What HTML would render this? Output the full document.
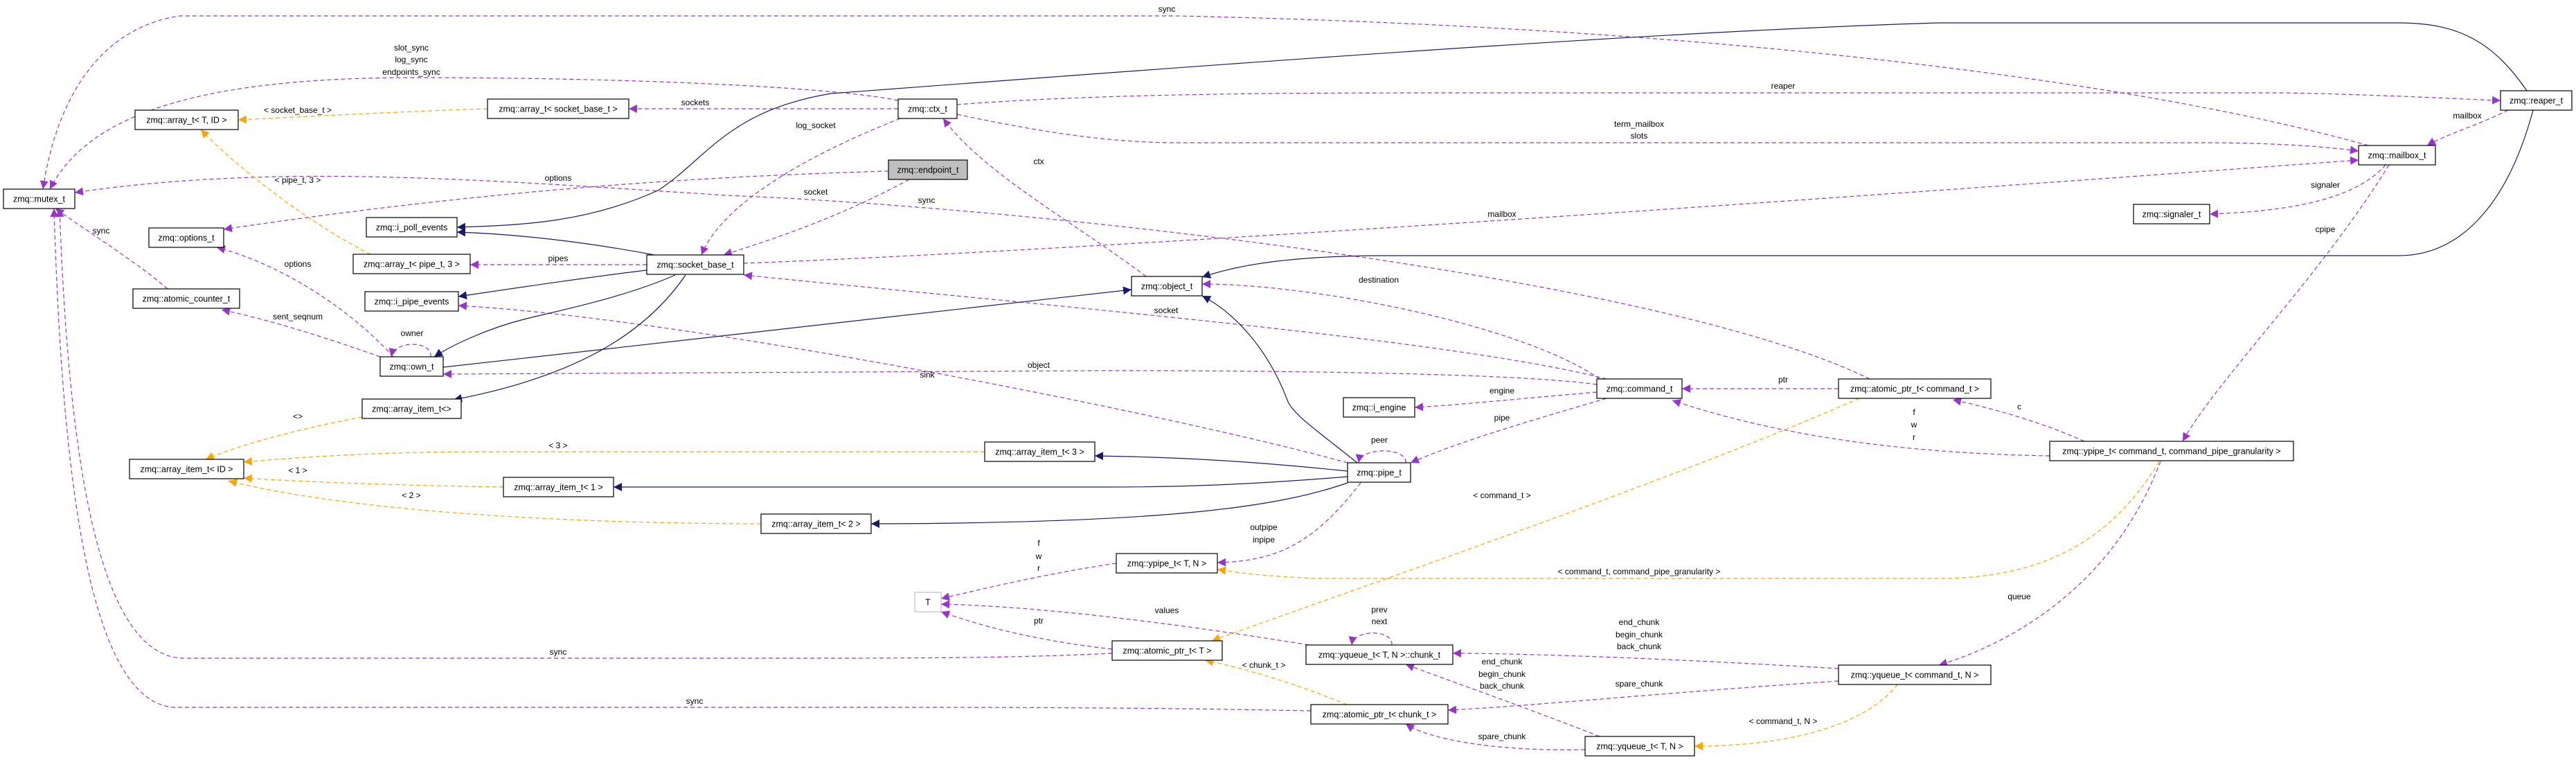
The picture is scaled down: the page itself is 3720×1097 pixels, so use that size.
<!DOCTYPE html>
<html><head><meta charset="utf-8"><style>
html,body{margin:0;padding:0;background:#fff;}
svg{display:block;}
.n rect{fill:#fff;stroke:#000;stroke-width:1.2;}
.n text{font-family:"Liberation Sans",sans-serif;font-size:12.5px;text-anchor:middle;fill:#000;}
.l{font-family:"Liberation Sans",sans-serif;font-size:12px;text-anchor:middle;fill:#000;}
.P{fill:none;stroke:#9a32cd;stroke-width:1.2;stroke-dasharray:6,4;marker-end:url(#mp);}
.N{fill:none;stroke:#191970;stroke-width:1.2;marker-end:url(#mn);}
.O{fill:none;stroke:#ffa500;stroke-width:1.2;stroke-dasharray:6,4;marker-end:url(#mo);}
</style></head><body>
<svg width="3720" height="1097" viewBox="0 0 3720 1097" xmlns="http://www.w3.org/2000/svg">
<defs>
<marker id="mp" viewBox="0 0 10 10" refX="10" refY="5" markerWidth="12" markerHeight="12" markerUnits="userSpaceOnUse" orient="auto"><path d="M0,0 L10,5 L0,10 z" fill="#9a32cd"/></marker>
<marker id="mn" viewBox="0 0 10 10" refX="10" refY="5" markerWidth="12" markerHeight="12" markerUnits="userSpaceOnUse" orient="auto"><path d="M0,0 L10,5 L0,10 z" fill="#191970"/></marker>
<marker id="mo" viewBox="0 0 10 10" refX="10" refY="5" markerWidth="12" markerHeight="12" markerUnits="userSpaceOnUse" orient="auto"><path d="M0,0 L10,5 L0,10 z" fill="#ffa500"/></marker>
</defs>

<!-- purple edges -->
<path class="P" d="M3420,210 C3100,120 2500,40 1700,23 L260,23 C140,40 80,150 62,273"/>
<path class="P" d="M1297,145 C1200,125 900,112 600,112 C300,112 130,160 72,273"/>
<path class="P" d="M2700,547 C2400,400 1500,300 1050,282 C700,260 400,235 108,278"/>
<path class="P" d="M1074,380 C1600,360 2600,290 3406,231"/>
<path class="P" d="M1283,247 C1000,255 700,275 323,331"/>
<path class="P" d="M1313,259 C1200,320 1100,350 1045,368"/>
<path class="P" d="M1300,171 C1150,230 1040,300 1013,368"/>
<path class="P" d="M1297,157 L908,157"/>
<path class="P" d="M934,382 L679,382"/>
<path class="P" d="M1382,151 C1600,134 1900,134 2100,134 L3300,134 C3450,137 3550,143 3611,145"/>
<path class="P" d="M1382,165 C1500,190 1600,206 1700,206 L3200,206 C3300,207 3360,212 3406,218"/>
<path class="P" d="M1655,399 C1550,320 1420,250 1362,171"/>
<path class="P" d="M2310,547 C2200,470 1900,410 1736,410"/>
<path class="P" d="M2320,547 C2100,490 1500,440 1074,397"/>
<path class="P" d="M2306,555 C2200,540 1900,535 1600,535 L640,540"/>
<path class="P" d="M1946,668 C1700,600 1000,460 662,441"/>
<path class="P" d="M2320,575 C2200,610 2100,640 2037,668"/>
<path class="P" d="M2306,566 C2200,575 2100,585 2043,588"/>
<path class="P" d="M2655,561 L2429,561"/>
<path class="P" d="M2960,658 C2800,655 2600,640 2415,578"/>
<path class="P" d="M3010,637 C2950,610 2880,590 2820,577"/>
<path class="P" d="M3450,238 C3350,400 3200,550 3152,637"/>
<path class="P" d="M3445,238 C3400,290 3300,305 3191,309"/>
<path class="P" d="M3622,159 C3580,180 3530,195 3505,210"/>
<path class="P" d="M3120,666 C3050,850 2900,930 2800,960"/>
<path class="P" d="M2655,965 C2400,950 2200,943 2098,943"/>
<path class="P" d="M2655,983 C2400,1000 2200,1020 2091,1025"/>
<path class="P" d="M2310,1063 C2200,1020 2100,985 2030,959"/>
<path class="P" d="M2289,1082 C2150,1085 2060,1065 2030,1045"/>
<path class="P" d="M1890,931 C1700,900 1500,875 1359,872"/>
<path class="P" d="M1606,937 C1500,925 1420,905 1359,883"/>
<path class="P" d="M1612,813 C1500,830 1420,850 1359,864"/>
<path class="P" d="M1965,697 C1900,780 1850,810 1758,812"/>
<path class="P" d="M1606,943 C1500,948 1400,950 1200,950 L260,950 C150,940 100,700 86,301"/>
<path class="P" d="M1893,1026 C1700,1022 1500,1021 1300,1021 L250,1021 C130,1010 90,700 78,301"/>
<path class="P" d="M242,417 C200,380 120,330 80,301"/>
<path class="P" d="M549,515 C450,480 380,460 320,447"/>
<path class="P" d="M568,515 C500,440 400,380 313,357"/>
<path class="P" d="M622,515 C625,492 570,490 565,515"/>
<path class="P" d="M2030,668 C2032,645 1965,645 1962,668"/>
<path class="P" d="M2010,931 C2012,908 1955,908 1952,931"/>

<!-- navy edges -->
<path class="N" d="M3649,131 C3600,60 3550,33 3464,33 L2800,33 C2400,45 1800,90 1200,135 C1050,160 1020,230 950,275 C850,320 760,325 660,328"/>
<path class="N" d="M3658,159 C3620,300 3550,369 3464,369 L1990,369 C1850,370 1780,385 1736,400"/>
<path class="N" d="M640,530 C1000,490 1400,445 1634,418"/>
<path class="N" d="M945,368 C850,350 750,338 660,335"/>
<path class="N" d="M934,390 C850,400 750,415 662,428"/>
<path class="N" d="M975,397 C900,430 800,450 760,460 C700,475 650,500 627,515"/>
<path class="N" d="M990,397 C940,470 850,540 655,577"/>
<path class="N" d="M1946,680 C1800,665 1700,660 1581,658"/>
<path class="N" d="M1946,688 C1800,700 1700,703 1600,703 L886,703"/>
<path class="N" d="M1946,697 C1850,730 1700,755 1258,756"/>
<path class="N" d="M1960,668 C1900,620 1870,600 1860,580 C1830,500 1780,450 1736,427"/>

<!-- orange edges -->
<path class="O" d="M704,157 C600,160 450,168 344,173"/>
<path class="O" d="M535,367 C460,330 350,250 290,187"/>
<path class="O" d="M523,602 C450,615 350,640 297,663"/>
<path class="O" d="M1422,652 L700,652 C550,652 430,660 352,667"/>
<path class="O" d="M727,703 C550,700 430,695 352,690"/>
<path class="O" d="M1099,756 C700,755 450,725 330,694"/>
<path class="O" d="M2685,575 C2400,700 1900,870 1750,925"/>
<path class="O" d="M3118,666 C3050,780 2950,835 2800,835 L1900,835 C1800,830 1780,825 1758,822"/>
<path class="O" d="M2740,988 C2700,1040 2600,1077 2447,1077"/>
<path class="O" d="M1945,1017 C1880,990 1800,965 1740,953"/>

<!-- edge labels -->
<g class="l">
<text x="1685" y="17">sync</text>
<text x="594" y="73">slot_sync</text><text x="594" y="90">log_sync</text><text x="594" y="108">endpoints_sync</text>
<text x="430" y="163">&lt; socket_base_t &gt;</text>
<text x="430" y="264">&lt; pipe_t, 3 &gt;</text>
<text x="146" y="337">sync</text>
<text x="430" y="385">options</text>
<text x="430" y="461">sent_seqnum</text>
<text x="595" y="485">owner</text>
<text x="430" y="605">&lt;&gt;</text>
<text x="430" y="683">&lt; 1 &gt;</text>
<text x="594" y="719">&lt; 2 &gt;</text>
<text x="1004" y="152">sockets</text>
<text x="1178" y="185">log_socket</text>
<text x="806" y="261">options</text>
<text x="1178" y="281">socket</text>
<text x="1338" y="293">sync</text>
<text x="806" y="377">pipes</text>
<text x="1339" y="545">sink</text>
<text x="806" y="647">&lt; 3 &gt;</text>
<text x="806" y="945">sync</text>
<text x="1003" y="1016">sync</text>
<text x="1500" y="237">ctx</text>
<text x="1991" y="408">destination</text>
<text x="1684" y="452">socket</text>
<text x="1500" y="531">object</text>
<text x="1992" y="639">peer</text>
<text x="1825" y="765">outpipe</text><text x="1825" y="783">inpipe</text>
<text x="1500" y="788">f</text><text x="1500" y="807">w</text><text x="1500" y="824">r</text>
<text x="1685" y="885">values</text>
<text x="1500" y="900">ptr</text>
<text x="1992" y="884">prev</text><text x="1992" y="901">next</text>
<text x="1825" y="964">&lt; chunk_t &gt;</text>
<text x="2169" y="568">engine</text>
<text x="2169" y="607">pipe</text>
<text x="2575" y="552">ptr</text>
<text x="2764" y="599">f</text><text x="2764" y="617">w</text><text x="2764" y="635">r</text>
<text x="2169" y="719">&lt; command_t &gt;</text>
<text x="2367" y="829">&lt; command_t, command_pipe_granularity &gt;</text>
<text x="2367" y="902">end_chunk</text><text x="2367" y="920">begin_chunk</text><text x="2367" y="937">back_chunk</text>
<text x="2169" y="959">end_chunk</text><text x="2169" y="977">begin_chunk</text><text x="2169" y="994">back_chunk</text>
<text x="2367" y="991">spare_chunk</text>
<text x="2575" y="1045">&lt; command_t, N &gt;</text>
<text x="2169" y="1067">spare_chunk</text>
<text x="2575" y="128">reaper</text>
<text x="2367" y="183">term_mailbox</text><text x="2367" y="200">slots</text>
<text x="2169" y="313">mailbox</text>
<text x="3563" y="171">mailbox</text>
<text x="3358" y="271">signaler</text>
<text x="3358" y="335">cpipe</text>
<text x="2916" y="591">c</text>
<text x="2916" y="865">queue</text>
</g>

<!-- nodes -->
<g class="n">
<rect x="5" y="273" width="103" height="28"/><text x="56.5" y="291.5">zmq::mutex_t</text>
<rect x="195" y="159" width="149" height="28"/><text x="269.5" y="177.5">zmq::array_t&lt; T, ID &gt;</text>
<rect x="215" y="329" width="108" height="28"/><text x="269" y="347.5">zmq::options_t</text>
<rect x="192" y="417" width="154" height="28"/><text x="269" y="435.5">zmq::atomic_counter_t</text>
<rect x="529" y="314" width="131" height="28"/><text x="594.5" y="332.5">zmq::i_poll_events</text>
<rect x="510" y="367" width="169" height="28"/><text x="594.5" y="385.5">zmq::array_t&lt; pipe_t, 3 &gt;</text>
<rect x="527" y="421" width="135" height="28"/><text x="594.5" y="439.5">zmq::i_pipe_events</text>
<rect x="549" y="515" width="91" height="28"/><text x="594.5" y="533.5">zmq::own_t</text>
<rect x="523" y="576" width="143" height="28"/><text x="594.5" y="594.5">zmq::array_item_t&lt;&gt;</text>
<rect x="187" y="663" width="165" height="28"/><text x="269.5" y="681.5">zmq::array_item_t&lt; ID &gt;</text>
<rect x="704" y="143" width="204" height="28"/><text x="806" y="161.5">zmq::array_t&lt; socket_base_t &gt;</text>
<rect x="1297" y="143" width="85" height="28"/><text x="1339.5" y="161.5">zmq::ctx_t</text>
<rect x="1283" y="231" width="114" height="28" style="fill:#bfbfbf"/><text x="1340" y="249.5">zmq::endpoint_t</text>
<rect x="934" y="368" width="140" height="28"/><text x="1004" y="386.5">zmq::socket_base_t</text>
<rect x="727" y="689" width="159" height="28"/><text x="806.5" y="707.5">zmq::array_item_t&lt; 1 &gt;</text>
<rect x="1099" y="742" width="159" height="28"/><text x="1178.5" y="760.5">zmq::array_item_t&lt; 2 &gt;</text>
<rect x="1321" y="855" width="38" height="28" style="stroke:#bfbfbf"/><text x="1340" y="873.5">T</text>
<rect x="1634" y="399" width="102" height="28"/><text x="1685" y="417.5">zmq::object_t</text>
<rect x="1940" y="574" width="103" height="28"/><text x="1991.5" y="592.5">zmq::i_engine</text>
<rect x="1422" y="638" width="159" height="28"/><text x="1501.5" y="656.5">zmq::array_item_t&lt; 3 &gt;</text>
<rect x="1946" y="668" width="91" height="28"/><text x="1991.5" y="686.5">zmq::pipe_t</text>
<rect x="1612" y="799" width="146" height="28"/><text x="1685" y="817.5">zmq::ypipe_t&lt; T, N &gt;</text>
<rect x="1606" y="925" width="159" height="28"/><text x="1685.5" y="943.5">zmq::atomic_ptr_t&lt; T &gt;</text>
<rect x="1886" y="931" width="212" height="28"/><text x="1992" y="949.5">zmq::yqueue_t&lt; T, N &gt;::chunk_t</text>
<rect x="1893" y="1017" width="198" height="28"/><text x="1992" y="1035.5">zmq::atomic_ptr_t&lt; chunk_t &gt;</text>
<rect x="2306" y="547" width="123" height="28"/><text x="2367.5" y="565.5">zmq::command_t</text>
<rect x="2655" y="547" width="220" height="28"/><text x="2765" y="565.5">zmq::atomic_ptr_t&lt; command_t &gt;</text>
<rect x="2655" y="960" width="220" height="28"/><text x="2765" y="978.5">zmq::yqueue_t&lt; command_t, N &gt;</text>
<rect x="2289" y="1063" width="158" height="28"/><text x="2368" y="1081.5">zmq::yqueue_t&lt; T, N &gt;</text>
<rect x="3611" y="131" width="103" height="28"/><text x="3662.5" y="149.5">zmq::reaper_t</text>
<rect x="3406" y="210" width="111" height="28"/><text x="3461.5" y="228.5">zmq::mailbox_t</text>
<rect x="3081" y="295" width="110" height="28"/><text x="3136" y="313.5">zmq::signaler_t</text>
<rect x="2960" y="637" width="352" height="28"/><text x="3136" y="655.5">zmq::ypipe_t&lt; command_t, command_pipe_granularity &gt;</text>
</g>
</svg>
</body></html>
